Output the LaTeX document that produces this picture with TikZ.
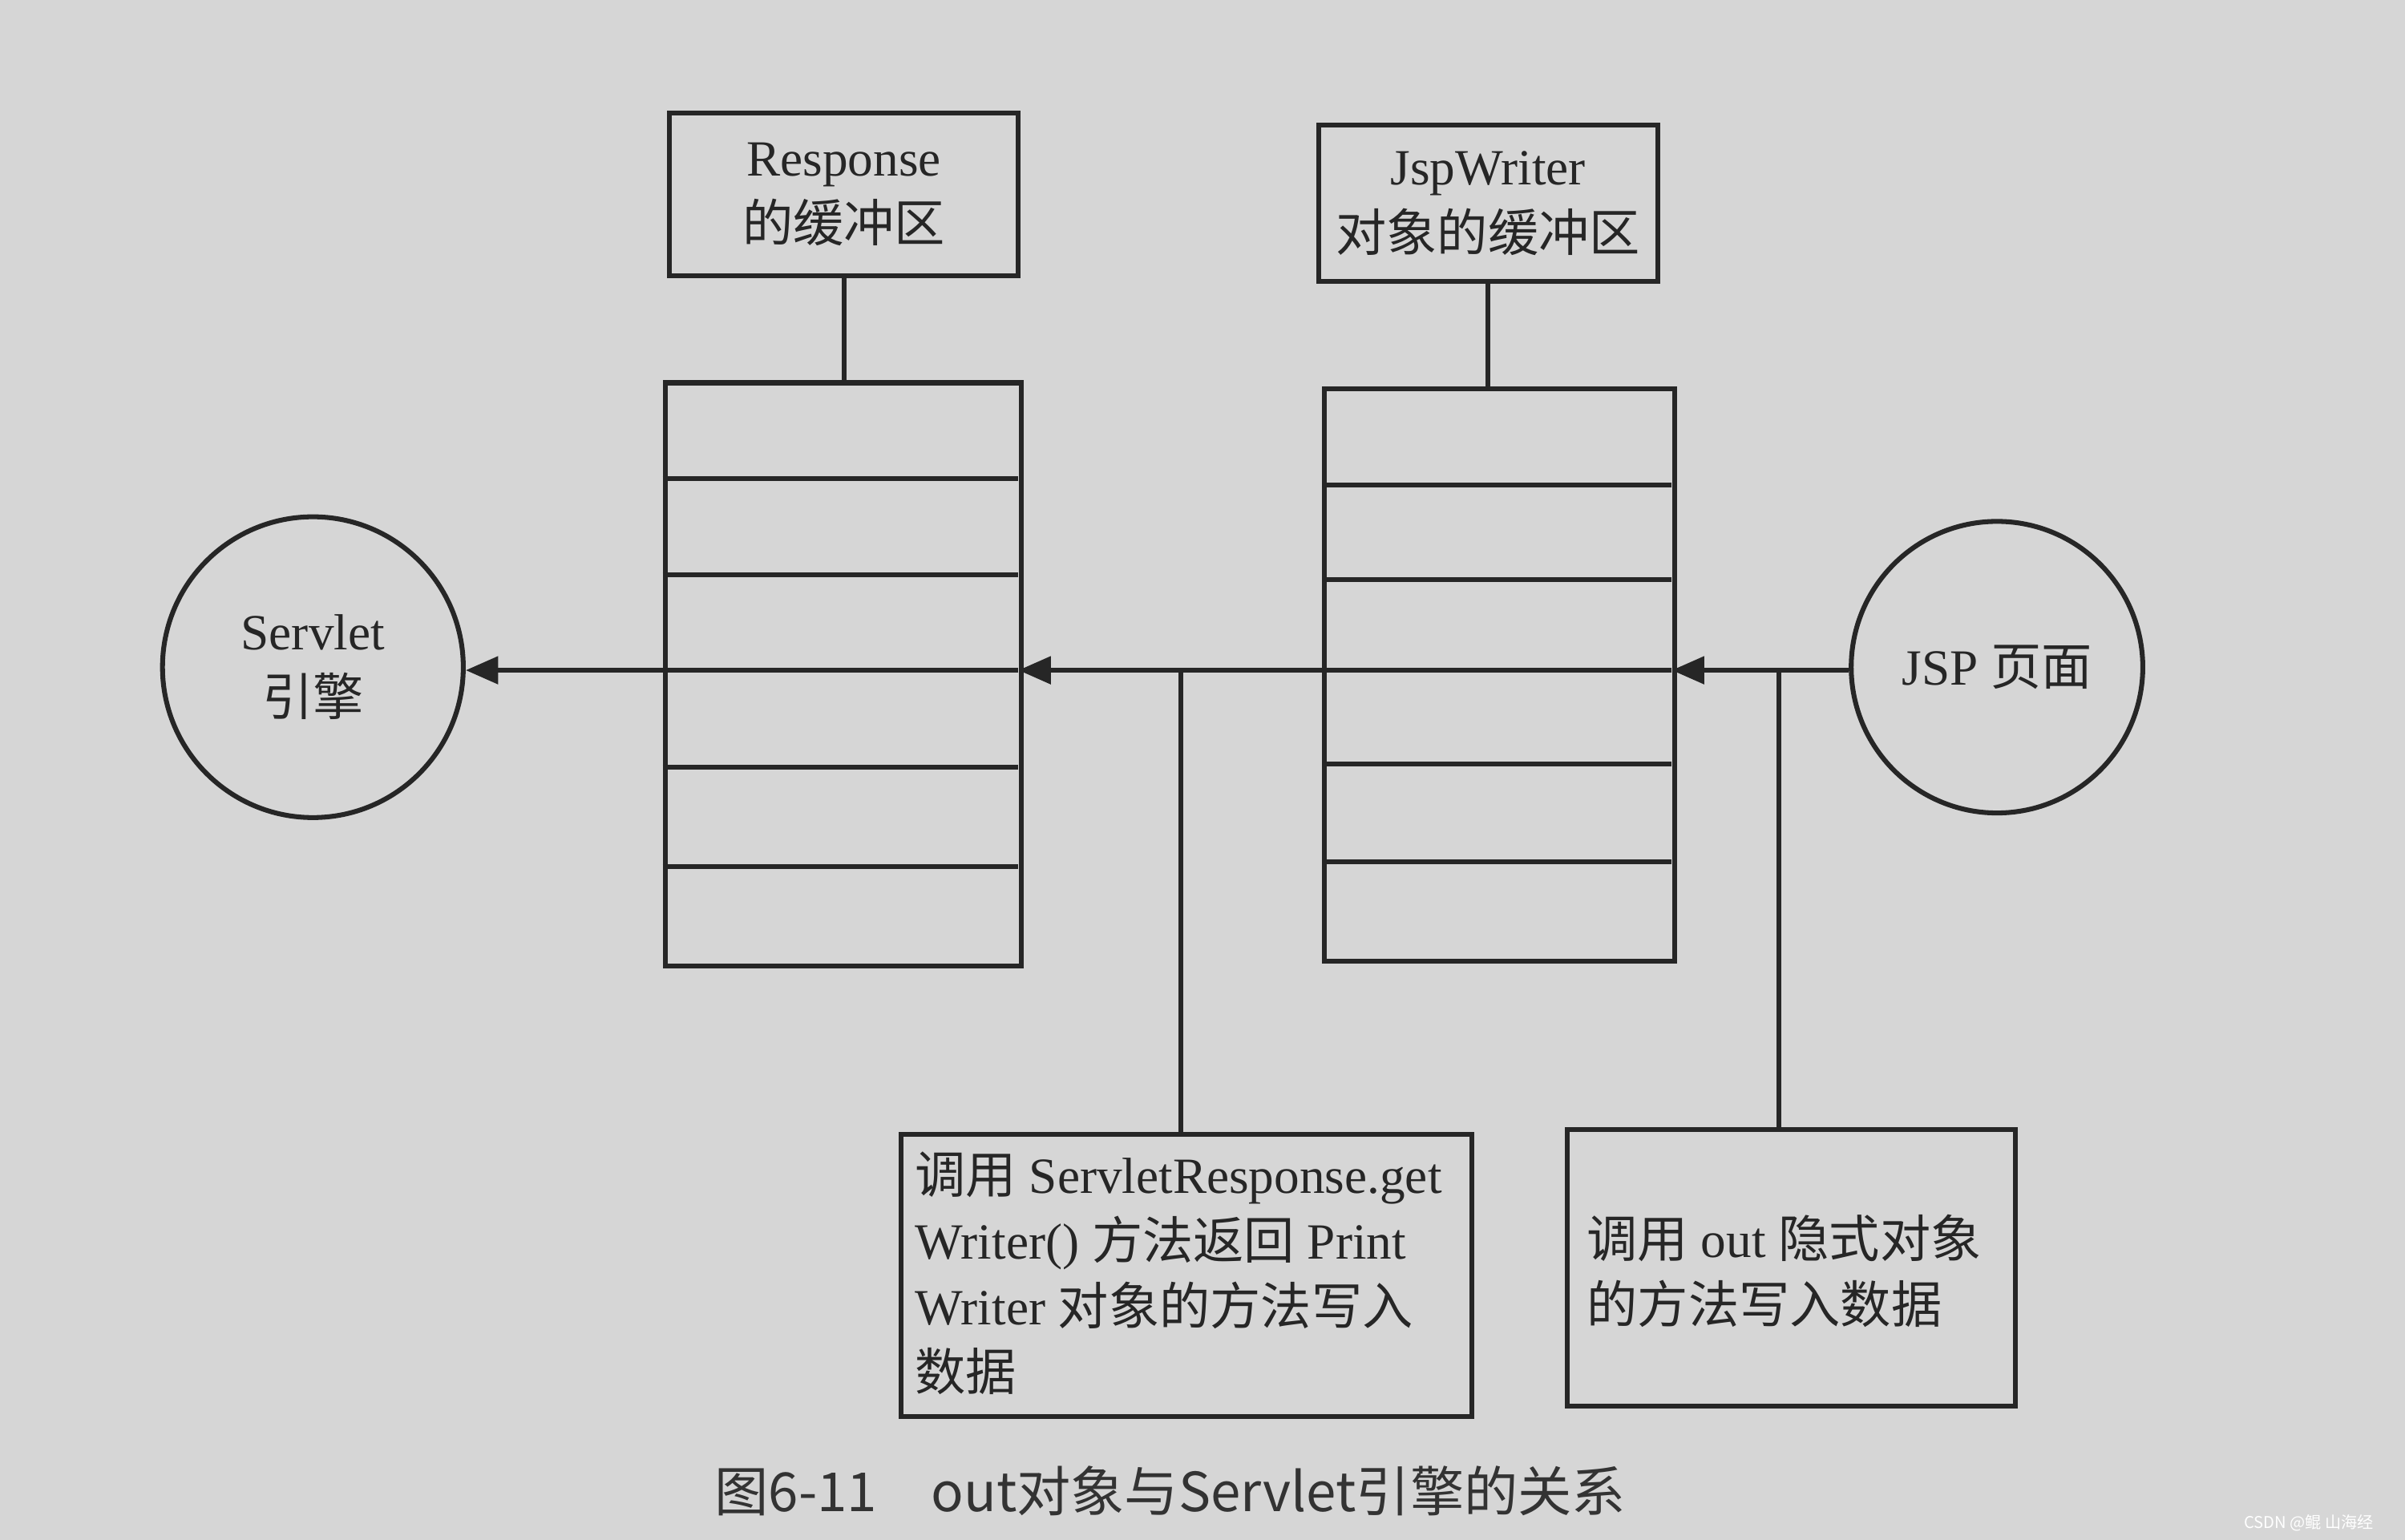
\documentclass[tikz,border=0pt]{standalone}
\usepackage{fontspec}
\setmainfont{Liberation Serif}
\newfontfamily\cjk{Noto Sans CJK SC}
\usetikzlibrary{arrows.meta}
\begin{document}
\begin{tikzpicture}[x=0.01cm,y=-0.01cm,
  bx/.style={draw=black!85,line width=0.9pt},
  ln/.style={draw=black!85,line width=0.9pt},
  ar/.style={-{Triangle[length=6pt,width=5pt]}},
  txt/.style={font=\fontsize{9.4}{12.2}\selectfont,align=left,text=black!85}]
\fill[black!16] (0,0) rectangle (1568,1004);
\useasboundingbox (0,0) rectangle (1568,1004);
% top boxes
\node[bx,minimum width=2.27cm,minimum height=1.06cm,anchor=north west,inner sep=0] (rb) at (435,72) {};
\node[txt,align=center] at (rb.center) {Response\\{\cjk 的缓冲区}};
\node[bx,minimum width=2.21cm,minimum height=1.02cm,anchor=north west,inner sep=0] (jb) at (858,80) {};
\node[txt,align=center] at (jb.center) {JspWriter\\{\cjk 对象的缓冲区}};
% stacks
\node[bx,minimum width=2.32cm,minimum height=3.80cm,anchor=north west,inner sep=0] (ls) at (432,248) {};
\foreach \y in {312,375,500,565} \draw[ln] (432,\y) -- (664,\y);
\node[bx,minimum width=2.28cm,minimum height=3.73cm,anchor=north west,inner sep=0] (rs) at (862,252) {};
\foreach \y in {316,378,498,562} \draw[ln] (862,\y) -- (1090,\y);
\draw[ln] (rb.south) -- (rb.south|-ls.north);
\draw[ln] (jb.south) -- (jb.south|-rs.north);
% circles
\node[bx,circle,minimum size=1.96cm,inner sep=0] (sv) at (204,435) {};
\node[txt,align=center] at (sv.center) {Servlet\\{\cjk 引擎}};
\node[bx,circle,minimum size=1.90cm,inner sep=0] (jsp) at (1302,435) {};
\node[txt] at (jsp.center) {JSP {\cjk 页面}};
% main arrow
\coordinate (a1) at (1090,437);
\coordinate (a2) at (664,437);
\draw[ln,ar] (jsp.west|-a1) -- (a1);
\draw[ln,ar] (a1) -- (a2);
\draw[ln,ar] (a2) -- (sv.east|-a2);
% bottom boxes
\node[bx,minimum width=3.72cm,minimum height=1.84cm,anchor=north west,inner sep=0] (b1) at (586,738) {};
\node[txt,anchor=north west,inner sep=0] at (596,750) {{\cjk 调用} ServletResponse.get\\Writer() {\cjk 方法返回} Print\\Writer {\cjk 对象的方法写入}\\{\cjk 数据}};
\node[bx,minimum width=2.92cm,minimum height=1.80cm,anchor=north west,inner sep=0] (b2) at (1020,735) {};
\node[txt,anchor=north west,inner sep=0] at (1034,791) {{\cjk 调用} out {\cjk 隐式对象}\\{\cjk 的方法写入数据}};
\coordinate (j1) at (770,437);
\coordinate (j2) at (1160,437);
\draw[ln] (j1) -- (j1|-b1.north);
\draw[ln] (j2) -- (j2|-b2.north);
% caption
\node[font=\cjk\fontsize{10}{12}\selectfont,text=black!80] at (763,972) {图6-11\quad out对象与Servlet引擎的关系};
\node[font=\cjk\fontsize{3}{4}\selectfont,text=white,anchor=east] at (1560,993) {CSDN @鲲 山海经};
\end{tikzpicture}
\end{document}
